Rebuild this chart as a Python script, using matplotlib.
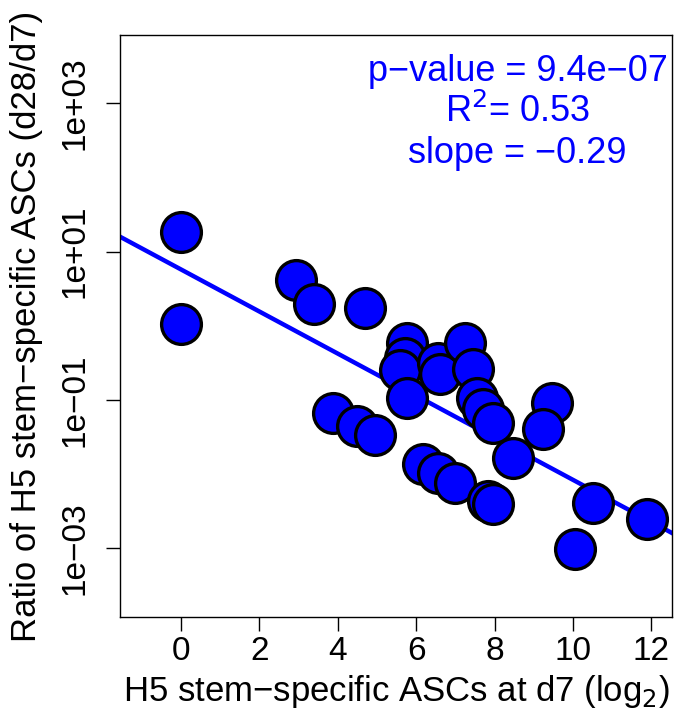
import numpy as np
import matplotlib
matplotlib.use('Agg')
import matplotlib.pyplot as plt

plt.rcParams['font.family'] = ['Liberation Sans', 'DejaVu Sans']

# values
asc_d7 = [0.0, 0.0, 2.93, 3.39, 4.69, 5.77, 5.71, 5.59, 5.77, 6.56, 6.61, 7.24, 7.45,
          7.55, 7.70, 7.96, 9.46, 9.23, 8.47, 3.88, 4.49, 4.95, 6.17, 6.56, 6.99,
          7.83, 7.96, 10.51, 11.89, 10.05]
ratio = [18.1, 1.06, 4.17, 1.99, 1.75, 0.59, 0.37, 0.25, 0.107, 0.316, 0.224, 0.59, 0.26,
         0.107, 0.076, 0.049, 0.091, 0.041, 0.0166, 0.066, 0.044, 0.033, 0.0137, 0.0103,
         0.0075, 0.0043, 0.0039, 0.0040, 0.0025, 0.00098]

yticks = [1e-3, 1e-1, 1e1, 1e3]
ytick_labels = ['1e\u221203', '1e\u221201', '1e+01', '1e+03']
xticks = [0, 2, 4, 6, 8, 10, 12]

x = np.array(asc_d7)
y = np.array(ratio)

# linear fit in log10 space
slope, intercept = np.polyfit(x, np.log10(y), 1)

fig = plt.figure(figsize=(6.77, 7.17), dpi=100)
ax = fig.add_axes([0.177, 0.1395, 0.816, 0.8115])

ax.scatter(x, y, s=820, c='#0000ff', edgecolors='black', linewidths=2.4, zorder=3)

xlim = (-1.56, 12.53)
xs = np.array(xlim)
ax.plot(xs, 10 ** (intercept + slope * xs), color='#0000ff', lw=3.2, zorder=2)

ax.set_yscale('log')
ax.set_xlim(xlim)
ax.set_ylim(10 ** -3.93, 10 ** 3.92)
ax.set_xticks(xticks)
ax.set_xticklabels([str(t) for t in xticks])
ax.set_yticks(yticks)
ax.set_yticklabels(ytick_labels, rotation=90, va='center')
ax.minorticks_off()
ax.tick_params(axis='both', direction='out', length=10, width=1, labelsize=24)
ax.tick_params(axis='x', pad=4)
ax.tick_params(axis='y', pad=11)

ax.set_xlabel('H5 stem\u2212specific ASCs at d7 (log$_2$)', fontsize=25, labelpad=4)
ax.set_ylabel('Ratio of H5 stem\u2212specific ASCs (d28/d7)', fontsize=25, labelpad=12)

for s in ax.spines.values():
    s.set_linewidth(1)

ax.text(0.72, 0.937, 'p\u2212value = 9.4e\u221207', transform=ax.transAxes,
        ha='center', va='center', fontsize=26, color='#0000ff')
ax.text(0.72, 0.868, 'R$^2$= 0.53', transform=ax.transAxes,
        ha='center', va='center', fontsize=26, color='#0000ff')
ax.text(0.72, 0.797, 'slope = \u22120.29', transform=ax.transAxes,
        ha='center', va='center', fontsize=26, color='#0000ff')

fig.savefig('out.png', dpi=100)
